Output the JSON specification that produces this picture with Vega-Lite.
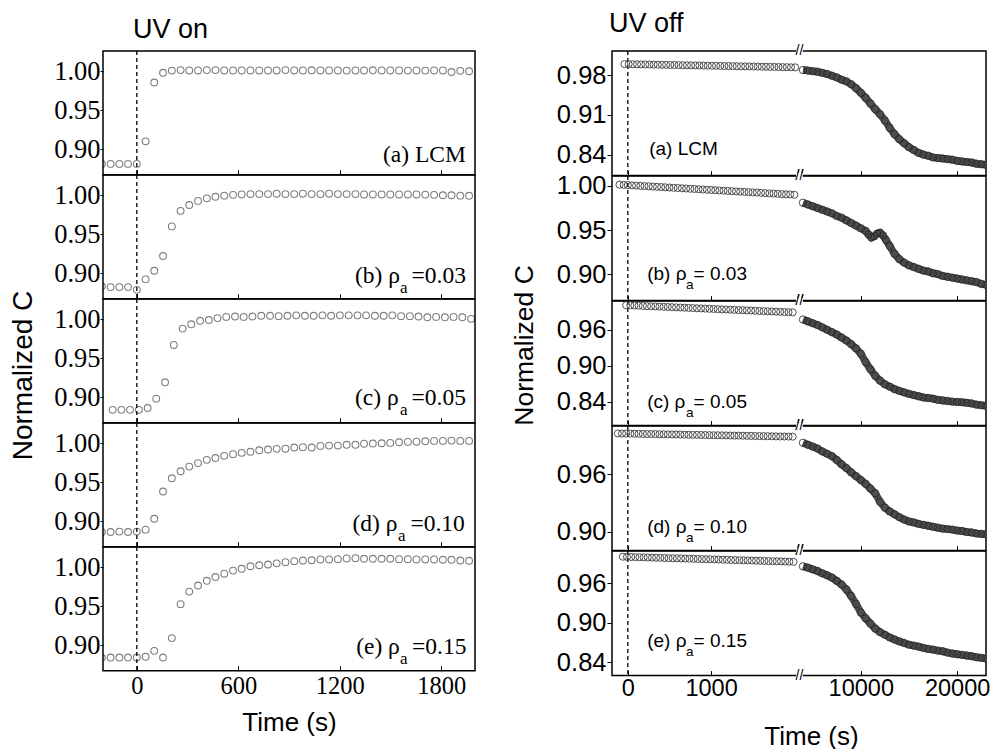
{
"$schema": "https://vega.github.io/schema/vega-lite/v6.json",
"background": "white",
"padding": {"left": 9, "top": 10, "right": 0, "bottom": 0},
"config": {
  "view": {"stroke": null},
  "axis": {"grid": false, "domain": false, "tickColor": "black", "labelColor": "black", "titleColor": "black", "titleFontWeight": "normal", "titleFont": "Liberation Sans", "labelFlush": false, "labelOverlap": false}
},
"datasets": {
"la": [{"t":-207,"v":0.881},{"t":-155,"v":0.881},{"t":-103,"v":0.881},{"t":-52,"v":0.881},{"t":0,"v":0.881},{"t":52,"v":0.910},{"t":103,"v":0.9855},{"t":155,"v":0.998},{"t":207,"v":1.0008},{"t":259,"v":1.0015},{"t":310,"v":1.001},{"t":362,"v":1.001},{"t":414,"v":1.0015},{"t":465,"v":1.0015},{"t":517,"v":1.001},{"t":569,"v":1.001},{"t":620,"v":1.001},{"t":672,"v":1.001},{"t":724,"v":1.001},{"t":776,"v":1.001},{"t":827,"v":1.001},{"t":879,"v":1.0015},{"t":931,"v":1.001},{"t":982,"v":1.001},{"t":1034,"v":1.0012},{"t":1086,"v":1.001},{"t":1137,"v":1.001},{"t":1189,"v":1.001},{"t":1241,"v":1.0008},{"t":1293,"v":1.001},{"t":1344,"v":1.001},{"t":1396,"v":1.0012},{"t":1448,"v":1.001},{"t":1499,"v":1.001},{"t":1551,"v":1.001},{"t":1603,"v":1.0008},{"t":1654,"v":1.001},{"t":1706,"v":1.0008},{"t":1758,"v":1.001},{"t":1810,"v":1.001},{"t":1861,"v":0.999},{"t":1913,"v":1.0005},{"t":1965,"v":1.000}],
"lb": [{"t":-207,"v":0.883},{"t":-155,"v":0.882},{"t":-103,"v":0.882},{"t":-52,"v":0.882},{"t":0,"v":0.8785},{"t":52,"v":0.892},{"t":103,"v":0.903},{"t":155,"v":0.922},{"t":207,"v":0.960},{"t":259,"v":0.980},{"t":310,"v":0.9875},{"t":362,"v":0.9927},{"t":414,"v":0.996},{"t":465,"v":0.998},{"t":517,"v":0.9995},{"t":569,"v":1.0005},{"t":620,"v":1.001},{"t":672,"v":1.0015},{"t":724,"v":1.0015},{"t":776,"v":1.0015},{"t":827,"v":1.002},{"t":879,"v":1.0015},{"t":931,"v":1.0015},{"t":982,"v":1.002},{"t":1034,"v":1.0015},{"t":1086,"v":1.0015},{"t":1137,"v":1.002},{"t":1189,"v":1.0015},{"t":1241,"v":1.0015},{"t":1293,"v":1.0015},{"t":1344,"v":1.001},{"t":1396,"v":1.001},{"t":1448,"v":1.001},{"t":1499,"v":1.001},{"t":1551,"v":1.001},{"t":1603,"v":1.001},{"t":1654,"v":1.001},{"t":1706,"v":1.0008},{"t":1758,"v":1.0005},{"t":1810,"v":1.000},{"t":1861,"v":1.000},{"t":1913,"v":0.9995},{"t":1965,"v":0.9993}],
"lc": [{"t":-143,"v":0.8836},{"t":-91,"v":0.8836},{"t":-40,"v":0.8836},{"t":12,"v":0.8836},{"t":64,"v":0.886},{"t":115,"v":0.898},{"t":167,"v":0.919},{"t":219,"v":0.967},{"t":271,"v":0.988},{"t":322,"v":0.9935},{"t":374,"v":0.998},{"t":426,"v":0.999},{"t":477,"v":1.0015},{"t":529,"v":1.003},{"t":581,"v":1.0035},{"t":632,"v":1.003},{"t":684,"v":1.0035},{"t":736,"v":1.0045},{"t":788,"v":1.0045},{"t":839,"v":1.004},{"t":891,"v":1.0045},{"t":943,"v":1.005},{"t":994,"v":1.0045},{"t":1046,"v":1.0045},{"t":1098,"v":1.005},{"t":1149,"v":1.0045},{"t":1201,"v":1.005},{"t":1253,"v":1.005},{"t":1305,"v":1.005},{"t":1356,"v":1.005},{"t":1408,"v":1.0045},{"t":1460,"v":1.0045},{"t":1511,"v":1.005},{"t":1563,"v":1.004},{"t":1615,"v":1.004},{"t":1666,"v":1.0035},{"t":1718,"v":1.0025},{"t":1770,"v":1.003},{"t":1822,"v":1.0025},{"t":1873,"v":1.003},{"t":1925,"v":1.0025},{"t":1977,"v":1.0005}],
"ld": [{"t":-207,"v":0.886},{"t":-155,"v":0.886},{"t":-103,"v":0.8865},{"t":-52,"v":0.886},{"t":0,"v":0.8865},{"t":52,"v":0.889},{"t":103,"v":0.903},{"t":155,"v":0.938},{"t":207,"v":0.955},{"t":259,"v":0.964},{"t":310,"v":0.970},{"t":362,"v":0.9745},{"t":414,"v":0.9787},{"t":465,"v":0.981},{"t":517,"v":0.9838},{"t":569,"v":0.986},{"t":620,"v":0.9877},{"t":672,"v":0.989},{"t":724,"v":0.991},{"t":776,"v":0.992},{"t":827,"v":0.9928},{"t":879,"v":0.993},{"t":931,"v":0.9945},{"t":982,"v":0.995},{"t":1034,"v":0.9945},{"t":1086,"v":0.9966},{"t":1137,"v":0.997},{"t":1189,"v":0.997},{"t":1241,"v":0.998},{"t":1293,"v":0.998},{"t":1344,"v":0.9994},{"t":1396,"v":0.9996},{"t":1448,"v":1.0},{"t":1499,"v":1.0004},{"t":1551,"v":1.0013},{"t":1603,"v":1.0017},{"t":1654,"v":1.002},{"t":1706,"v":1.0025},{"t":1758,"v":1.003},{"t":1810,"v":1.003},{"t":1861,"v":1.0034},{"t":1913,"v":1.003},{"t":1965,"v":1.003}],
"le": [{"t":-207,"v":0.884},{"t":-155,"v":0.884},{"t":-103,"v":0.884},{"t":-52,"v":0.884},{"t":0,"v":0.884},{"t":52,"v":0.885},{"t":103,"v":0.8926},{"t":155,"v":0.884},{"t":207,"v":0.909},{"t":259,"v":0.9526},{"t":310,"v":0.9687},{"t":362,"v":0.9765},{"t":414,"v":0.9826},{"t":465,"v":0.9874},{"t":517,"v":0.9917},{"t":569,"v":0.9957},{"t":620,"v":0.998},{"t":672,"v":1.0013},{"t":724,"v":1.0026},{"t":776,"v":1.0035},{"t":827,"v":1.005},{"t":879,"v":1.0065},{"t":931,"v":1.0078},{"t":982,"v":1.0087},{"t":1034,"v":1.009},{"t":1086,"v":1.010},{"t":1137,"v":1.010},{"t":1189,"v":1.0104},{"t":1241,"v":1.0113},{"t":1293,"v":1.0117},{"t":1344,"v":1.0109},{"t":1396,"v":1.0109},{"t":1448,"v":1.0109},{"t":1499,"v":1.0109},{"t":1551,"v":1.0104},{"t":1603,"v":1.0104},{"t":1654,"v":1.010},{"t":1706,"v":1.010},{"t":1758,"v":1.010},{"t":1810,"v":1.0096},{"t":1861,"v":1.0096},{"t":1913,"v":1.0087},{"t":1965,"v":1.0083}],
"ra1": [{"t":-40,"v":0.9995},{"t":10,"v":0.9994},{"t":60,"v":0.9992},{"t":110,"v":0.9991},{"t":160,"v":0.9989},{"t":210,"v":0.9988},{"t":260,"v":0.9987},{"t":310,"v":0.9985},{"t":360,"v":0.9984},{"t":410,"v":0.9982},{"t":460,"v":0.9981},{"t":510,"v":0.9979},{"t":560,"v":0.9978},{"t":610,"v":0.9977},{"t":660,"v":0.9975},{"t":710,"v":0.9974},{"t":760,"v":0.9972},{"t":810,"v":0.9971},{"t":860,"v":0.997},{"t":910,"v":0.9968},{"t":960,"v":0.9967},{"t":1010,"v":0.9965},{"t":1060,"v":0.9964},{"t":1110,"v":0.9962},{"t":1160,"v":0.9961},{"t":1210,"v":0.996},{"t":1260,"v":0.9958},{"t":1310,"v":0.9957},{"t":1360,"v":0.9955},{"t":1410,"v":0.9954},{"t":1460,"v":0.9953},{"t":1510,"v":0.9951},{"t":1560,"v":0.995},{"t":1610,"v":0.9948},{"t":1660,"v":0.9947},{"t":1710,"v":0.9945},{"t":1760,"v":0.9944},{"t":1810,"v":0.9943},{"t":1860,"v":0.9941},{"t":1910,"v":0.994},{"t":1960,"v":0.9938},{"t":2010,"v":0.9937}],
"ra2": [{"t":4000,"v":0.989},{"t":4500,"v":0.988},{"t":5000,"v":0.987},{"t":5500,"v":0.986},{"t":6000,"v":0.984},{"t":6500,"v":0.982},{"t":7000,"v":0.979},{"t":7500,"v":0.976},{"t":8000,"v":0.972},{"t":8500,"v":0.969},{"t":9000,"v":0.964},{"t":9500,"v":0.957},{"t":10000,"v":0.949},{"t":10500,"v":0.94},{"t":11000,"v":0.93},{"t":11500,"v":0.92},{"t":12000,"v":0.911},{"t":12500,"v":0.9},{"t":13000,"v":0.887},{"t":13500,"v":0.876},{"t":14000,"v":0.867},{"t":14500,"v":0.86},{"t":15000,"v":0.853},{"t":15500,"v":0.848},{"t":16000,"v":0.843},{"t":16500,"v":0.84},{"t":17000,"v":0.838},{"t":17500,"v":0.835},{"t":18000,"v":0.834},{"t":18500,"v":0.833},{"t":19000,"v":0.832},{"t":19500,"v":0.831},{"t":20000,"v":0.829},{"t":20500,"v":0.828},{"t":21000,"v":0.827},{"t":21500,"v":0.826},{"t":22000,"v":0.824},{"t":22500,"v":0.823},{"t":23000,"v":0.822}],
"rb1": [{"t":-100,"v":1.0015},{"t":-50,"v":1.0012},{"t":0,"v":1.001},{"t":50,"v":1.0007},{"t":100,"v":1.0004},{"t":150,"v":1.0001},{"t":200,"v":0.9999},{"t":250,"v":0.9996},{"t":300,"v":0.9993},{"t":350,"v":0.999},{"t":400,"v":0.9988},{"t":450,"v":0.9985},{"t":500,"v":0.9982},{"t":550,"v":0.9979},{"t":600,"v":0.9977},{"t":650,"v":0.9974},{"t":700,"v":0.9971},{"t":750,"v":0.9968},{"t":800,"v":0.9966},{"t":850,"v":0.9963},{"t":900,"v":0.996},{"t":950,"v":0.9957},{"t":1000,"v":0.9955},{"t":1050,"v":0.9952},{"t":1100,"v":0.9949},{"t":1150,"v":0.9946},{"t":1200,"v":0.9944},{"t":1250,"v":0.9941},{"t":1300,"v":0.9938},{"t":1350,"v":0.9935},{"t":1400,"v":0.9933},{"t":1450,"v":0.993},{"t":1500,"v":0.9927},{"t":1550,"v":0.9925},{"t":1600,"v":0.9922},{"t":1650,"v":0.9919},{"t":1700,"v":0.9916},{"t":1750,"v":0.9914},{"t":1800,"v":0.9911},{"t":1850,"v":0.9908},{"t":1900,"v":0.9905},{"t":1950,"v":0.9903},{"t":2000,"v":0.99}],
"rb2": [{"t":4000,"v":0.981},{"t":4500,"v":0.979},{"t":5000,"v":0.977},{"t":5500,"v":0.975},{"t":6000,"v":0.973},{"t":6500,"v":0.971},{"t":7000,"v":0.969},{"t":7500,"v":0.966},{"t":8000,"v":0.964},{"t":8500,"v":0.961},{"t":9000,"v":0.958},{"t":9500,"v":0.955},{"t":10000,"v":0.952},{"t":10500,"v":0.949},{"t":10800,"v":0.945},{"t":11100,"v":0.9415},{"t":11400,"v":0.943},{"t":11700,"v":0.946},{"t":12000,"v":0.947},{"t":12300,"v":0.944},{"t":12600,"v":0.939},{"t":13000,"v":0.932},{"t":13500,"v":0.923},{"t":14000,"v":0.917},{"t":14500,"v":0.913},{"t":15000,"v":0.91},{"t":15500,"v":0.908},{"t":16000,"v":0.906},{"t":16500,"v":0.904},{"t":17000,"v":0.903},{"t":17500,"v":0.901},{"t":18000,"v":0.9},{"t":18500,"v":0.898},{"t":19000,"v":0.897},{"t":19500,"v":0.896},{"t":20000,"v":0.895},{"t":20500,"v":0.894},{"t":21000,"v":0.893},{"t":21500,"v":0.892},{"t":22000,"v":0.891},{"t":22500,"v":0.889},{"t":23000,"v":0.888}],
"rc1": [{"t":-20,"v":1.001},{"t":30,"v":1.0007},{"t":80,"v":1.0004},{"t":130,"v":1.0001},{"t":180,"v":0.9998},{"t":230,"v":0.9995},{"t":280,"v":0.9992},{"t":330,"v":0.9989},{"t":380,"v":0.9986},{"t":430,"v":0.9983},{"t":480,"v":0.998},{"t":530,"v":0.9977},{"t":580,"v":0.9974},{"t":630,"v":0.9971},{"t":680,"v":0.9968},{"t":730,"v":0.9965},{"t":780,"v":0.9962},{"t":830,"v":0.9959},{"t":880,"v":0.9956},{"t":930,"v":0.9953},{"t":980,"v":0.995},{"t":1030,"v":0.9947},{"t":1080,"v":0.9944},{"t":1130,"v":0.9941},{"t":1180,"v":0.9938},{"t":1230,"v":0.9935},{"t":1280,"v":0.9932},{"t":1330,"v":0.9929},{"t":1380,"v":0.9926},{"t":1430,"v":0.9923},{"t":1480,"v":0.992},{"t":1530,"v":0.9917},{"t":1580,"v":0.9914},{"t":1630,"v":0.9911},{"t":1680,"v":0.9908},{"t":1730,"v":0.9905},{"t":1780,"v":0.9902},{"t":1830,"v":0.9899},{"t":1880,"v":0.9896},{"t":1930,"v":0.9893},{"t":1980,"v":0.989}],
"rc2": [{"t":4000,"v":0.977},{"t":4500,"v":0.974},{"t":5000,"v":0.971},{"t":5500,"v":0.968},{"t":6000,"v":0.964},{"t":6500,"v":0.96},{"t":7000,"v":0.956},{"t":7500,"v":0.952},{"t":8000,"v":0.947},{"t":8500,"v":0.942},{"t":9000,"v":0.936},{"t":9500,"v":0.929},{"t":10000,"v":0.92},{"t":10500,"v":0.906},{"t":11000,"v":0.894},{"t":11500,"v":0.883},{"t":12000,"v":0.875},{"t":12500,"v":0.869},{"t":13000,"v":0.865},{"t":13500,"v":0.861},{"t":14000,"v":0.858},{"t":14500,"v":0.8555},{"t":15000,"v":0.853},{"t":15500,"v":0.851},{"t":16000,"v":0.849},{"t":16500,"v":0.847},{"t":17000,"v":0.846},{"t":17500,"v":0.845},{"t":18000,"v":0.843},{"t":18500,"v":0.842},{"t":19000,"v":0.841},{"t":19500,"v":0.84},{"t":20000,"v":0.8395},{"t":20500,"v":0.839},{"t":21000,"v":0.838},{"t":21500,"v":0.837},{"t":22000,"v":0.835},{"t":22500,"v":0.834},{"t":23000,"v":0.833}],
"rd1": [{"t":-120,"v":1.0028},{"t":-70,"v":1.0027},{"t":-20,"v":1.0026},{"t":30,"v":1.0026},{"t":80,"v":1.0025},{"t":130,"v":1.0024},{"t":180,"v":1.0023},{"t":230,"v":1.0022},{"t":280,"v":1.0022},{"t":330,"v":1.0021},{"t":380,"v":1.002},{"t":430,"v":1.0019},{"t":480,"v":1.0018},{"t":530,"v":1.0017},{"t":580,"v":1.0017},{"t":630,"v":1.0016},{"t":680,"v":1.0015},{"t":730,"v":1.0014},{"t":780,"v":1.0013},{"t":830,"v":1.0013},{"t":880,"v":1.0012},{"t":930,"v":1.0011},{"t":980,"v":1.001},{"t":1030,"v":1.0009},{"t":1080,"v":1.0009},{"t":1130,"v":1.0008},{"t":1180,"v":1.0007},{"t":1230,"v":1.0006},{"t":1280,"v":1.0005},{"t":1330,"v":1.0005},{"t":1380,"v":1.0004},{"t":1430,"v":1.0003},{"t":1480,"v":1.0002},{"t":1530,"v":1.0001},{"t":1580,"v":1.0},{"t":1630,"v":1.0},{"t":1680,"v":0.9999},{"t":1730,"v":0.9998},{"t":1780,"v":0.9997},{"t":1830,"v":0.9996},{"t":1880,"v":0.9996},{"t":1930,"v":0.9995},{"t":1980,"v":0.9994}],
"rd2": [{"t":4000,"v":0.993},{"t":4500,"v":0.991},{"t":5000,"v":0.989},{"t":5500,"v":0.987},{"t":6000,"v":0.984},{"t":6500,"v":0.9815},{"t":7000,"v":0.979},{"t":7500,"v":0.975},{"t":8000,"v":0.9705},{"t":8500,"v":0.9665},{"t":9000,"v":0.962},{"t":9500,"v":0.958},{"t":10000,"v":0.954},{"t":10500,"v":0.95},{"t":11000,"v":0.945},{"t":11500,"v":0.94},{"t":12000,"v":0.931},{"t":12500,"v":0.925},{"t":13000,"v":0.921},{"t":13500,"v":0.918},{"t":14000,"v":0.915},{"t":14500,"v":0.9125},{"t":15000,"v":0.9105},{"t":15500,"v":0.9095},{"t":16000,"v":0.908},{"t":16500,"v":0.907},{"t":17000,"v":0.906},{"t":17500,"v":0.905},{"t":18000,"v":0.904},{"t":18500,"v":0.903},{"t":19000,"v":0.9025},{"t":19500,"v":0.902},{"t":20000,"v":0.901},{"t":20500,"v":0.9005},{"t":21000,"v":0.8995},{"t":21500,"v":0.899},{"t":22000,"v":0.898},{"t":22500,"v":0.8975},{"t":23000,"v":0.897}],
"re1": [{"t":-60,"v":1.0007},{"t":-10,"v":1.0005},{"t":40,"v":1.0003},{"t":90,"v":1.0001},{"t":140,"v":0.9999},{"t":190,"v":0.9998},{"t":240,"v":0.9996},{"t":290,"v":0.9994},{"t":340,"v":0.9992},{"t":390,"v":0.999},{"t":440,"v":0.9988},{"t":490,"v":0.9986},{"t":540,"v":0.9984},{"t":590,"v":0.9983},{"t":640,"v":0.9981},{"t":690,"v":0.9979},{"t":740,"v":0.9977},{"t":790,"v":0.9975},{"t":840,"v":0.9973},{"t":890,"v":0.9971},{"t":940,"v":0.9969},{"t":990,"v":0.9968},{"t":1040,"v":0.9966},{"t":1090,"v":0.9964},{"t":1140,"v":0.9962},{"t":1190,"v":0.996},{"t":1240,"v":0.9958},{"t":1290,"v":0.9956},{"t":1340,"v":0.9954},{"t":1390,"v":0.9953},{"t":1440,"v":0.9951},{"t":1490,"v":0.9949},{"t":1540,"v":0.9947},{"t":1590,"v":0.9945},{"t":1640,"v":0.9943},{"t":1690,"v":0.9941},{"t":1740,"v":0.9939},{"t":1790,"v":0.9938},{"t":1840,"v":0.9936},{"t":1890,"v":0.9934},{"t":1940,"v":0.9932},{"t":1990,"v":0.993}],
"re2": [{"t":4000,"v":0.986},{"t":4500,"v":0.984},{"t":5000,"v":0.9815},{"t":5500,"v":0.979},{"t":6000,"v":0.9755},{"t":6500,"v":0.9725},{"t":7000,"v":0.969},{"t":7500,"v":0.964},{"t":8000,"v":0.9585},{"t":8500,"v":0.951},{"t":9000,"v":0.941},{"t":9500,"v":0.929},{"t":10000,"v":0.916},{"t":10500,"v":0.907},{"t":11000,"v":0.899},{"t":11500,"v":0.8915},{"t":12000,"v":0.886},{"t":12500,"v":0.882},{"t":13000,"v":0.878},{"t":13500,"v":0.875},{"t":14000,"v":0.872},{"t":14500,"v":0.8695},{"t":15000,"v":0.867},{"t":15500,"v":0.8655},{"t":16000,"v":0.864},{"t":16500,"v":0.862},{"t":17000,"v":0.8605},{"t":17500,"v":0.8595},{"t":18000,"v":0.858},{"t":18500,"v":0.857},{"t":19000,"v":0.855},{"t":19500,"v":0.8535},{"t":20000,"v":0.8525},{"t":20500,"v":0.8515},{"t":21000,"v":0.8505},{"t":21500,"v":0.8495},{"t":22000,"v":0.848},{"t":22500,"v":0.847},{"t":23000,"v":0.846}]
},
"spacing": 35,
"hconcat": [
{"spacing": 0, "bounds": "flush", "vconcat": [
 {"width": 372, "height": 123.8,
  "title": {"text": "UV on", "anchor": "start", "frame": "group", "dx": 30, "offset": -15, "fontSize": 27, "font": "Liberation Sans", "fontWeight": "normal", "baseline": "alphabetic", "color": "black"},
  "layer": [
   {"data": {"name": "la"}, "mark": {"type": "point", "shape": "circle", "filled": false, "stroke": "#7f7f7f", "strokeWidth": 1.1, "size": 46, "opacity": 1, "clip": true},
    "encoding": {"x": {"field": "t", "type": "quantitative", "scale": {"domain": [-200, 2000], "nice": false, "zero": false}, "axis": {"title": null, "labels": false, "values": [0, 600, 1200, 1800], "tickSize": -5}},
                 "y": {"field": "v", "type": "quantitative", "scale": {"domain": [0.867, 1.026], "nice": false, "zero": false}, "axis": {"title": null, "values": [0.9, 0.95, 1.0], "format": ".2f", "tickSize": 3, "labelPadding": 0, "labelFont": "Liberation Serif", "labelFontSize": 26.5}}}},
   {"data": {"values": [{}]}, "mark": {"type": "rule", "strokeDash": [4, 3], "strokeWidth": 1.3, "color": "black"}, "encoding": {"x": {"datum": 0}}},
   {"data": {"values": [{}]}, "mark": {"type": "rect", "fillOpacity": 0, "stroke": "black", "strokeWidth": 1.5}, "encoding": {"x": {"datum": -200}, "x2": {"datum": 2000}, "y": {"datum": 0.867}, "y2": {"datum": 1.026}}},
   {"data": {"values": [{}]}, "mark": {"type": "text", "text": "(a) LCM", "font": "Liberation Serif", "fontSize": 23.5, "align": "left", "baseline": "alphabetic", "dy": -13, "color": "black"}, "encoding": {"x": {"datum": 1456}, "y": {"datum": 0.867}}}
  ]},
 {"width": 372, "height": 123.8,
  "layer": [
   {"data": {"name": "lb"}, "mark": {"type": "point", "shape": "circle", "filled": false, "stroke": "#7f7f7f", "strokeWidth": 1.1, "size": 46, "opacity": 1, "clip": true},
    "encoding": {"x": {"field": "t", "type": "quantitative", "scale": {"domain": [-200, 2000], "nice": false, "zero": false}, "axis": {"title": null, "labels": false, "values": [0, 600, 1200, 1800], "tickSize": -5}},
                 "y": {"field": "v", "type": "quantitative", "scale": {"domain": [0.867, 1.026], "nice": false, "zero": false}, "axis": {"title": null, "values": [0.9, 0.95, 1.0], "format": ".2f", "tickSize": 3, "labelPadding": 0, "labelFont": "Liberation Serif", "labelFontSize": 26.5}}}},
   {"data": {"values": [{}]}, "mark": {"type": "rule", "strokeDash": [4, 3], "strokeWidth": 1.3, "color": "black"}, "encoding": {"x": {"datum": 0}}},
   {"data": {"values": [{}]}, "mark": {"type": "rect", "fillOpacity": 0, "stroke": "black", "strokeWidth": 1.5}, "encoding": {"x": {"datum": -200}, "x2": {"datum": 2000}, "y": {"datum": 0.867}, "y2": {"datum": 1.026}}},
   {"data": {"values": [{}]}, "mark": {"type": "text", "text": "(b) ρ", "font": "Liberation Serif", "fontSize": 23.5, "align": "left", "baseline": "alphabetic", "dy": -16, "color": "black"}, "encoding": {"x": {"datum": 1290}, "y": {"datum": 0.867}}},
   {"data": {"values": [{}]}, "mark": {"type": "text", "text": "a", "font": "Liberation Serif", "fontSize": 17, "align": "left", "baseline": "alphabetic", "dy": -6, "color": "black"}, "encoding": {"x": {"datum": 1556}, "y": {"datum": 0.867}}},
   {"data": {"values": [{}]}, "mark": {"type": "text", "text": "=0.03", "font": "Liberation Serif", "fontSize": 23.5, "align": "left", "baseline": "alphabetic", "dy": -16, "color": "black"}, "encoding": {"x": {"datum": 1625}, "y": {"datum": 0.867}}}
  ]},
 {"width": 372, "height": 123.8,
  "layer": [
   {"data": {"name": "lc"}, "mark": {"type": "point", "shape": "circle", "filled": false, "stroke": "#7f7f7f", "strokeWidth": 1.1, "size": 46, "opacity": 1, "clip": true},
    "encoding": {"x": {"field": "t", "type": "quantitative", "scale": {"domain": [-200, 2000], "nice": false, "zero": false}, "axis": {"title": null, "labels": false, "values": [0, 600, 1200, 1800], "tickSize": -5}},
                 "y": {"field": "v", "type": "quantitative", "scale": {"domain": [0.867, 1.026], "nice": false, "zero": false}, "axis": {"title": "Normalized C", "titleFontSize": 28, "titlePadding": 16, "titleY": 76, "values": [0.9, 0.95, 1.0], "format": ".2f", "tickSize": 3, "labelPadding": 0, "labelFont": "Liberation Serif", "labelFontSize": 26.5}}}},
   {"data": {"values": [{}]}, "mark": {"type": "rule", "strokeDash": [4, 3], "strokeWidth": 1.3, "color": "black"}, "encoding": {"x": {"datum": 0}}},
   {"data": {"values": [{}]}, "mark": {"type": "rect", "fillOpacity": 0, "stroke": "black", "strokeWidth": 1.5}, "encoding": {"x": {"datum": -200}, "x2": {"datum": 2000}, "y": {"datum": 0.867}, "y2": {"datum": 1.026}}},
   {"data": {"values": [{}]}, "mark": {"type": "text", "text": "(c) ρ", "font": "Liberation Serif", "fontSize": 23.5, "align": "left", "baseline": "alphabetic", "dy": -18, "color": "black"}, "encoding": {"x": {"datum": 1290}, "y": {"datum": 0.867}}},
   {"data": {"values": [{}]}, "mark": {"type": "text", "text": "a", "font": "Liberation Serif", "fontSize": 17, "align": "left", "baseline": "alphabetic", "dy": -8, "color": "black"}, "encoding": {"x": {"datum": 1556}, "y": {"datum": 0.867}}},
   {"data": {"values": [{}]}, "mark": {"type": "text", "text": "=0.05", "font": "Liberation Serif", "fontSize": 23.5, "align": "left", "baseline": "alphabetic", "dy": -18, "color": "black"}, "encoding": {"x": {"datum": 1625}, "y": {"datum": 0.867}}}
  ]},
 {"width": 372, "height": 123.8,
  "layer": [
   {"data": {"name": "ld"}, "mark": {"type": "point", "shape": "circle", "filled": false, "stroke": "#7f7f7f", "strokeWidth": 1.1, "size": 46, "opacity": 1, "clip": true},
    "encoding": {"x": {"field": "t", "type": "quantitative", "scale": {"domain": [-200, 2000], "nice": false, "zero": false}, "axis": {"title": null, "labels": false, "values": [0, 600, 1200, 1800], "tickSize": -5}},
                 "y": {"field": "v", "type": "quantitative", "scale": {"domain": [0.867, 1.026], "nice": false, "zero": false}, "axis": {"title": null, "values": [0.9, 0.95, 1.0], "format": ".2f", "tickSize": 3, "labelPadding": 0, "labelFont": "Liberation Serif", "labelFontSize": 26.5}}}},
   {"data": {"values": [{}]}, "mark": {"type": "rule", "strokeDash": [4, 3], "strokeWidth": 1.3, "color": "black"}, "encoding": {"x": {"datum": 0}}},
   {"data": {"values": [{}]}, "mark": {"type": "rect", "fillOpacity": 0, "stroke": "black", "strokeWidth": 1.5}, "encoding": {"x": {"datum": -200}, "x2": {"datum": 2000}, "y": {"datum": 0.867}, "y2": {"datum": 1.026}}},
   {"data": {"values": [{}]}, "mark": {"type": "text", "text": "(d) ρ", "font": "Liberation Serif", "fontSize": 23.5, "align": "left", "baseline": "alphabetic", "dy": -16, "color": "black"}, "encoding": {"x": {"datum": 1275}, "y": {"datum": 0.867}}},
   {"data": {"values": [{}]}, "mark": {"type": "text", "text": "a", "font": "Liberation Serif", "fontSize": 17, "align": "left", "baseline": "alphabetic", "dy": -6, "color": "black"}, "encoding": {"x": {"datum": 1545}, "y": {"datum": 0.867}}},
   {"data": {"values": [{}]}, "mark": {"type": "text", "text": "=0.10", "font": "Liberation Serif", "fontSize": 23.5, "align": "left", "baseline": "alphabetic", "dy": -16, "color": "black"}, "encoding": {"x": {"datum": 1618}, "y": {"datum": 0.867}}}
  ]},
 {"width": 372, "height": 123.8,
  "layer": [
   {"data": {"name": "le"}, "mark": {"type": "point", "shape": "circle", "filled": false, "stroke": "#7f7f7f", "strokeWidth": 1.1, "size": 46, "opacity": 1, "clip": true},
    "encoding": {"x": {"field": "t", "type": "quantitative", "scale": {"domain": [-200, 2000], "nice": false, "zero": false}, "axis": {"title": "Time (s)", "values": [0, 600, 1200, 1800], "format": "d", "tickSize": -5, "labelFont": "Liberation Serif", "labelFontSize": 24.5, "labelPadding": 9, "titleFontSize": 26, "titlePadding": 11}},
                 "y": {"field": "v", "type": "quantitative", "scale": {"domain": [0.867, 1.026], "nice": false, "zero": false}, "axis": {"title": null, "values": [0.9, 0.95, 1.0], "format": ".2f", "tickSize": 3, "labelPadding": 0, "labelFont": "Liberation Serif", "labelFontSize": 26.5}}}},
   {"data": {"values": [{}]}, "mark": {"type": "rule", "strokeDash": [4, 3], "strokeWidth": 1.3, "color": "black"}, "encoding": {"x": {"datum": 0}}},
   {"data": {"values": [{}]}, "mark": {"type": "rect", "fillOpacity": 0, "stroke": "black", "strokeWidth": 1.5}, "encoding": {"x": {"datum": -200}, "x2": {"datum": 2000}, "y": {"datum": 0.867}, "y2": {"datum": 1.026}}},
   {"data": {"values": [{}]}, "mark": {"type": "text", "text": "(e) ρ", "font": "Liberation Serif", "fontSize": 23.5, "align": "left", "baseline": "alphabetic", "dy": -17, "color": "black"}, "encoding": {"x": {"datum": 1297}, "y": {"datum": 0.867}}},
   {"data": {"values": [{}]}, "mark": {"type": "text", "text": "a", "font": "Liberation Serif", "fontSize": 17, "align": "left", "baseline": "alphabetic", "dy": -7, "color": "black"}, "encoding": {"x": {"datum": 1556}, "y": {"datum": 0.867}}},
   {"data": {"values": [{}]}, "mark": {"type": "text", "text": "=0.15", "font": "Liberation Serif", "fontSize": 23.5, "align": "left", "baseline": "alphabetic", "dy": -17, "color": "black"}, "encoding": {"x": {"datum": 1628}, "y": {"datum": 0.867}}}
  ]}
]},
{"spacing": 0, "bounds": "flush", "vconcat": [
 {"width": 374, "height": 124.6,
  "title": {"text": "UV off", "anchor": "start", "frame": "group", "dx": -3, "offset": -15, "fontSize": 27, "font": "Liberation Sans", "fontWeight": "normal", "baseline": "alphabetic", "color": "black"},
  "layer": [
   {"data": {"values": [{}]}, "mark": {"type": "rect", "fillOpacity": 0, "stroke": "black", "strokeWidth": 1.5},
    "encoding": {"x": {"datum": -190, "type": "quantitative", "scale": {"domain": [-190, 2020, 4000, 23000], "range": [0, 184, 191, 374], "nice": false, "zero": false}, "axis": {"title": null, "labels": false, "values": [0, 1000, 10000, 20000], "tickSize": -5}}, "x2": {"datum": 23000},
                 "y": {"datum": 0.803, "type": "quantitative", "scale": {"domain": [0.803, 1.0225], "nice": false, "zero": false}, "axis": {"title": null, "values": [0.84, 0.91, 0.98], "format": ".2f", "tickSize": 5, "labelPadding": 1, "labelFont": "Liberation Sans", "labelFontSize": 25.5}}, "y2": {"datum": 1.0225}}},
   {"data": {"values": [{}]}, "mark": {"type": "rect", "fill": "white", "clip": false}, "encoding": {"x": {"datum": 2045}, "x2": {"datum": 3960}, "y": {"datum": 0.798}, "y2": {"datum": 1.0275}}},
   {"data": {"values": [{}]}, "mark": {"type": "text", "text": "//", "font": "Liberation Sans", "fontSize": 14, "align": "center", "baseline": "middle", "color": "black"}, "encoding": {"x": {"datum": 3000}, "y": {"datum": 1.0225}}},
   {"data": {"values": [{}]}, "mark": {"type": "text", "text": "//", "font": "Liberation Sans", "fontSize": 14, "align": "center", "baseline": "middle", "color": "black"}, "encoding": {"x": {"datum": 3000}, "y": {"datum": 0.803}}},
   {"data": {"values": [{}]}, "mark": {"type": "rule", "strokeDash": [4, 3], "strokeWidth": 1.3, "color": "black"}, "encoding": {"x": {"datum": 0}}},
   {"data": {"name": "ra1"}, "mark": {"type": "point", "shape": "circle", "filled": false, "stroke": "#3c3c3c", "strokeWidth": 0.9, "size": 50, "opacity": 1, "clip": true}, "encoding": {"x": {"field": "t", "type": "quantitative"}, "y": {"field": "v", "type": "quantitative"}}},
   {"data": {"name": "ra2"}, "mark": {"type": "line", "color": "#4d4d4d", "strokeWidth": 7.5, "clip": true}, "encoding": {"x": {"field": "t", "type": "quantitative"}, "y": {"field": "v", "type": "quantitative"}}},
   {"data": {"name": "ra2"}, "mark": {"type": "point", "shape": "circle", "filled": false, "stroke": "#262626", "strokeWidth": 0.8, "size": 55, "opacity": 1, "clip": true}, "encoding": {"x": {"field": "t", "type": "quantitative"}, "y": {"field": "v", "type": "quantitative"}}},
   {"data": {"values": [{}]}, "mark": {"type": "text", "text": "(a) LCM", "font": "Liberation Sans", "fontSize": 19, "align": "left", "baseline": "alphabetic", "dy": -21, "color": "black"}, "encoding": {"x": {"datum": 256}, "y": {"datum": 0.803}}}
  ]},
 {"width": 374, "height": 124.6,
  "layer": [
   {"data": {"values": [{}]}, "mark": {"type": "rect", "fillOpacity": 0, "stroke": "black", "strokeWidth": 1.5},
    "encoding": {"x": {"datum": -190, "type": "quantitative", "scale": {"domain": [-190, 2020, 4000, 23000], "range": [0, 184, 191, 374], "nice": false, "zero": false}, "axis": {"title": null, "labels": false, "values": [0, 1000, 10000, 20000], "tickSize": -5}}, "x2": {"datum": 23000},
                 "y": {"datum": 0.870, "type": "quantitative", "scale": {"domain": [0.870, 1.0113], "nice": false, "zero": false}, "axis": {"title": null, "values": [0.90, 0.95, 1.00], "format": ".2f", "tickSize": 5, "labelPadding": 1, "labelFont": "Liberation Sans", "labelFontSize": 25.5}}, "y2": {"datum": 1.0113}}},
   {"data": {"values": [{}]}, "mark": {"type": "rect", "fill": "white", "clip": false}, "encoding": {"x": {"datum": 2045}, "x2": {"datum": 3960}, "y": {"datum": 0.8666}, "y2": {"datum": 1.0147}}},
   {"data": {"values": [{}]}, "mark": {"type": "text", "text": "//", "font": "Liberation Sans", "fontSize": 14, "align": "center", "baseline": "middle", "color": "black"}, "encoding": {"x": {"datum": 3000}, "y": {"datum": 1.0113}}},
   {"data": {"values": [{}]}, "mark": {"type": "text", "text": "//", "font": "Liberation Sans", "fontSize": 14, "align": "center", "baseline": "middle", "color": "black"}, "encoding": {"x": {"datum": 3000}, "y": {"datum": 0.870}}},
   {"data": {"values": [{}]}, "mark": {"type": "rule", "strokeDash": [4, 3], "strokeWidth": 1.3, "color": "black"}, "encoding": {"x": {"datum": 0}}},
   {"data": {"name": "rb1"}, "mark": {"type": "point", "shape": "circle", "filled": false, "stroke": "#3c3c3c", "strokeWidth": 0.9, "size": 50, "opacity": 1, "clip": true}, "encoding": {"x": {"field": "t", "type": "quantitative"}, "y": {"field": "v", "type": "quantitative"}}},
   {"data": {"name": "rb2"}, "mark": {"type": "line", "color": "#4d4d4d", "strokeWidth": 7.5, "clip": true}, "encoding": {"x": {"field": "t", "type": "quantitative"}, "y": {"field": "v", "type": "quantitative"}}},
   {"data": {"name": "rb2"}, "mark": {"type": "point", "shape": "circle", "filled": false, "stroke": "#262626", "strokeWidth": 0.8, "size": 55, "opacity": 1, "clip": true}, "encoding": {"x": {"field": "t", "type": "quantitative"}, "y": {"field": "v", "type": "quantitative"}}},
   {"data": {"values": [{}]}, "mark": {"type": "text", "text": "(b) ρ", "font": "Liberation Sans", "fontSize": 19, "align": "left", "baseline": "alphabetic", "dy": -21, "color": "black"}, "encoding": {"x": {"datum": 232}, "y": {"datum": 0.870}}},
   {"data": {"values": [{}]}, "mark": {"type": "text", "text": "a", "font": "Liberation Sans", "fontSize": 13.5, "align": "left", "baseline": "alphabetic", "dy": -12, "color": "black"}, "encoding": {"x": {"datum": 700}, "y": {"datum": 0.870}}},
   {"data": {"values": [{}]}, "mark": {"type": "text", "text": "= 0.03", "font": "Liberation Sans", "fontSize": 19, "align": "left", "baseline": "alphabetic", "dy": -21, "color": "black"}, "encoding": {"x": {"datum": 790}, "y": {"datum": 0.870}}}
  ]},
 {"width": 374, "height": 124.6,
  "layer": [
   {"data": {"values": [{}]}, "mark": {"type": "rect", "fillOpacity": 0, "stroke": "black", "strokeWidth": 1.5},
    "encoding": {"x": {"datum": -190, "type": "quantitative", "scale": {"domain": [-190, 2020, 4000, 23000], "range": [0, 184, 191, 374], "nice": false, "zero": false}, "axis": {"title": null, "labels": false, "values": [0, 1000, 10000, 20000], "tickSize": -5}}, "x2": {"datum": 23000},
                 "y": {"datum": 0.800, "type": "quantitative", "scale": {"domain": [0.800, 1.008], "nice": false, "zero": false}, "axis": {"title": "Normalized C", "titleFontSize": 26.5, "titlePadding": 18, "titleY": 44, "values": [0.84, 0.90, 0.96], "format": ".2f", "tickSize": 5, "labelPadding": 1, "labelFont": "Liberation Sans", "labelFontSize": 25.5}}, "y2": {"datum": 1.008}}},
   {"data": {"values": [{}]}, "mark": {"type": "rect", "fill": "white", "clip": false}, "encoding": {"x": {"datum": 2045}, "x2": {"datum": 3960}, "y": {"datum": 0.795}, "y2": {"datum": 1.013}}},
   {"data": {"values": [{}]}, "mark": {"type": "text", "text": "//", "font": "Liberation Sans", "fontSize": 14, "align": "center", "baseline": "middle", "color": "black"}, "encoding": {"x": {"datum": 3000}, "y": {"datum": 1.008}}},
   {"data": {"values": [{}]}, "mark": {"type": "text", "text": "//", "font": "Liberation Sans", "fontSize": 14, "align": "center", "baseline": "middle", "color": "black"}, "encoding": {"x": {"datum": 3000}, "y": {"datum": 0.800}}},
   {"data": {"values": [{}]}, "mark": {"type": "rule", "strokeDash": [4, 3], "strokeWidth": 1.3, "color": "black"}, "encoding": {"x": {"datum": 0}}},
   {"data": {"name": "rc1"}, "mark": {"type": "point", "shape": "circle", "filled": false, "stroke": "#3c3c3c", "strokeWidth": 0.9, "size": 50, "opacity": 1, "clip": true}, "encoding": {"x": {"field": "t", "type": "quantitative"}, "y": {"field": "v", "type": "quantitative"}}},
   {"data": {"name": "rc2"}, "mark": {"type": "line", "color": "#4d4d4d", "strokeWidth": 7.5, "clip": true}, "encoding": {"x": {"field": "t", "type": "quantitative"}, "y": {"field": "v", "type": "quantitative"}}},
   {"data": {"name": "rc2"}, "mark": {"type": "point", "shape": "circle", "filled": false, "stroke": "#262626", "strokeWidth": 0.8, "size": 55, "opacity": 1, "clip": true}, "encoding": {"x": {"field": "t", "type": "quantitative"}, "y": {"field": "v", "type": "quantitative"}}},
   {"data": {"values": [{}]}, "mark": {"type": "text", "text": "(c) ρ", "font": "Liberation Sans", "fontSize": 19, "align": "left", "baseline": "alphabetic", "dy": -18, "color": "black"}, "encoding": {"x": {"datum": 232}, "y": {"datum": 0.800}}},
   {"data": {"values": [{}]}, "mark": {"type": "text", "text": "a", "font": "Liberation Sans", "fontSize": 13.5, "align": "left", "baseline": "alphabetic", "dy": -9, "color": "black"}, "encoding": {"x": {"datum": 700}, "y": {"datum": 0.800}}},
   {"data": {"values": [{}]}, "mark": {"type": "text", "text": "= 0.05", "font": "Liberation Sans", "fontSize": 19, "align": "left", "baseline": "alphabetic", "dy": -18, "color": "black"}, "encoding": {"x": {"datum": 790}, "y": {"datum": 0.800}}}
  ]},
 {"width": 374, "height": 124.6,
  "layer": [
   {"data": {"values": [{}]}, "mark": {"type": "rect", "fillOpacity": 0, "stroke": "black", "strokeWidth": 1.5},
    "encoding": {"x": {"datum": -190, "type": "quantitative", "scale": {"domain": [-190, 2020, 4000, 23000], "range": [0, 184, 191, 374], "nice": false, "zero": false}, "axis": {"title": null, "labels": false, "values": [0, 1000, 10000, 20000], "tickSize": -5}}, "x2": {"datum": 23000},
                 "y": {"datum": 0.880, "type": "quantitative", "scale": {"domain": [0.880, 1.0106], "nice": false, "zero": false}, "axis": {"title": null, "values": [0.90, 0.96], "format": ".2f", "tickSize": 5, "labelPadding": 1, "labelFont": "Liberation Sans", "labelFontSize": 25.5}}, "y2": {"datum": 1.0106}}},
   {"data": {"values": [{}]}, "mark": {"type": "rect", "fill": "white", "clip": false}, "encoding": {"x": {"datum": 2045}, "x2": {"datum": 3960}, "y": {"datum": 0.8769}, "y2": {"datum": 1.0137}}},
   {"data": {"values": [{}]}, "mark": {"type": "text", "text": "//", "font": "Liberation Sans", "fontSize": 14, "align": "center", "baseline": "middle", "color": "black"}, "encoding": {"x": {"datum": 3000}, "y": {"datum": 1.0106}}},
   {"data": {"values": [{}]}, "mark": {"type": "text", "text": "//", "font": "Liberation Sans", "fontSize": 14, "align": "center", "baseline": "middle", "color": "black"}, "encoding": {"x": {"datum": 3000}, "y": {"datum": 0.880}}},
   {"data": {"values": [{}]}, "mark": {"type": "rule", "strokeDash": [4, 3], "strokeWidth": 1.3, "color": "black"}, "encoding": {"x": {"datum": 0}}},
   {"data": {"name": "rd1"}, "mark": {"type": "point", "shape": "circle", "filled": false, "stroke": "#3c3c3c", "strokeWidth": 0.9, "size": 50, "opacity": 1, "clip": true}, "encoding": {"x": {"field": "t", "type": "quantitative"}, "y": {"field": "v", "type": "quantitative"}}},
   {"data": {"name": "rd2"}, "mark": {"type": "line", "color": "#4d4d4d", "strokeWidth": 7.5, "clip": true}, "encoding": {"x": {"field": "t", "type": "quantitative"}, "y": {"field": "v", "type": "quantitative"}}},
   {"data": {"name": "rd2"}, "mark": {"type": "point", "shape": "circle", "filled": false, "stroke": "#262626", "strokeWidth": 0.8, "size": 55, "opacity": 1, "clip": true}, "encoding": {"x": {"field": "t", "type": "quantitative"}, "y": {"field": "v", "type": "quantitative"}}},
   {"data": {"values": [{}]}, "mark": {"type": "text", "text": "(d) ρ", "font": "Liberation Sans", "fontSize": 19, "align": "left", "baseline": "alphabetic", "dy": -18, "color": "black"}, "encoding": {"x": {"datum": 232}, "y": {"datum": 0.880}}},
   {"data": {"values": [{}]}, "mark": {"type": "text", "text": "a", "font": "Liberation Sans", "fontSize": 13.5, "align": "left", "baseline": "alphabetic", "dy": -9, "color": "black"}, "encoding": {"x": {"datum": 700}, "y": {"datum": 0.880}}},
   {"data": {"values": [{}]}, "mark": {"type": "text", "text": "= 0.10", "font": "Liberation Sans", "fontSize": 19, "align": "left", "baseline": "alphabetic", "dy": -18, "color": "black"}, "encoding": {"x": {"datum": 790}, "y": {"datum": 0.880}}}
  ]},
 {"width": 374, "height": 124.6,
  "layer": [
   {"data": {"values": [{}]}, "mark": {"type": "rect", "fillOpacity": 0, "stroke": "black", "strokeWidth": 1.5},
    "encoding": {"x": {"datum": -190, "type": "quantitative", "scale": {"domain": [-190, 2020, 4000, 23000], "range": [0, 184, 191, 374], "nice": false, "zero": false}, "axis": {"title": "Time (s)", "values": [0, 1000, 10000, 20000], "format": "d", "tickSize": -5, "labelFont": "Liberation Sans", "labelFontSize": 23.5, "labelPadding": 6, "titleFontSize": 26, "titlePadding": 23, "titleX": 199}}, "x2": {"datum": 23000},
                 "y": {"datum": 0.820, "type": "quantitative", "scale": {"domain": [0.820, 1.0094], "nice": false, "zero": false}, "axis": {"title": null, "values": [0.84, 0.90, 0.96], "format": ".2f", "tickSize": 5, "labelPadding": 1, "labelFont": "Liberation Sans", "labelFontSize": 25.5}}, "y2": {"datum": 1.0094}}},
   {"data": {"values": [{}]}, "mark": {"type": "rect", "fill": "white", "clip": false}, "encoding": {"x": {"datum": 2045}, "x2": {"datum": 3960}, "y": {"datum": 0.8154}, "y2": {"datum": 1.014}}},
   {"data": {"values": [{}]}, "mark": {"type": "text", "text": "//", "font": "Liberation Sans", "fontSize": 14, "align": "center", "baseline": "middle", "color": "black"}, "encoding": {"x": {"datum": 3000}, "y": {"datum": 1.0094}}},
   {"data": {"values": [{}]}, "mark": {"type": "text", "text": "//", "font": "Liberation Sans", "fontSize": 14, "align": "center", "baseline": "middle", "color": "black"}, "encoding": {"x": {"datum": 3000}, "y": {"datum": 0.820}}},
   {"data": {"values": [{}]}, "mark": {"type": "rule", "strokeDash": [4, 3], "strokeWidth": 1.3, "color": "black"}, "encoding": {"x": {"datum": 0}}},
   {"data": {"name": "re1"}, "mark": {"type": "point", "shape": "circle", "filled": false, "stroke": "#3c3c3c", "strokeWidth": 0.9, "size": 50, "opacity": 1, "clip": true}, "encoding": {"x": {"field": "t", "type": "quantitative"}, "y": {"field": "v", "type": "quantitative"}}},
   {"data": {"name": "re2"}, "mark": {"type": "line", "color": "#4d4d4d", "strokeWidth": 7.5, "clip": true}, "encoding": {"x": {"field": "t", "type": "quantitative"}, "y": {"field": "v", "type": "quantitative"}}},
   {"data": {"name": "re2"}, "mark": {"type": "point", "shape": "circle", "filled": false, "stroke": "#262626", "strokeWidth": 0.8, "size": 55, "opacity": 1, "clip": true}, "encoding": {"x": {"field": "t", "type": "quantitative"}, "y": {"field": "v", "type": "quantitative"}}},
   {"data": {"values": [{}]}, "mark": {"type": "text", "text": "(e) ρ", "font": "Liberation Sans", "fontSize": 19, "align": "left", "baseline": "alphabetic", "dy": -29, "color": "black"}, "encoding": {"x": {"datum": 232}, "y": {"datum": 0.820}}},
   {"data": {"values": [{}]}, "mark": {"type": "text", "text": "a", "font": "Liberation Sans", "fontSize": 13.5, "align": "left", "baseline": "alphabetic", "dy": -20, "color": "black"}, "encoding": {"x": {"datum": 700}, "y": {"datum": 0.820}}},
   {"data": {"values": [{}]}, "mark": {"type": "text", "text": "= 0.15", "font": "Liberation Sans", "fontSize": 19, "align": "left", "baseline": "alphabetic", "dy": -29, "color": "black"}, "encoding": {"x": {"datum": 790}, "y": {"datum": 0.820}}}
  ]}
]}
]
}
